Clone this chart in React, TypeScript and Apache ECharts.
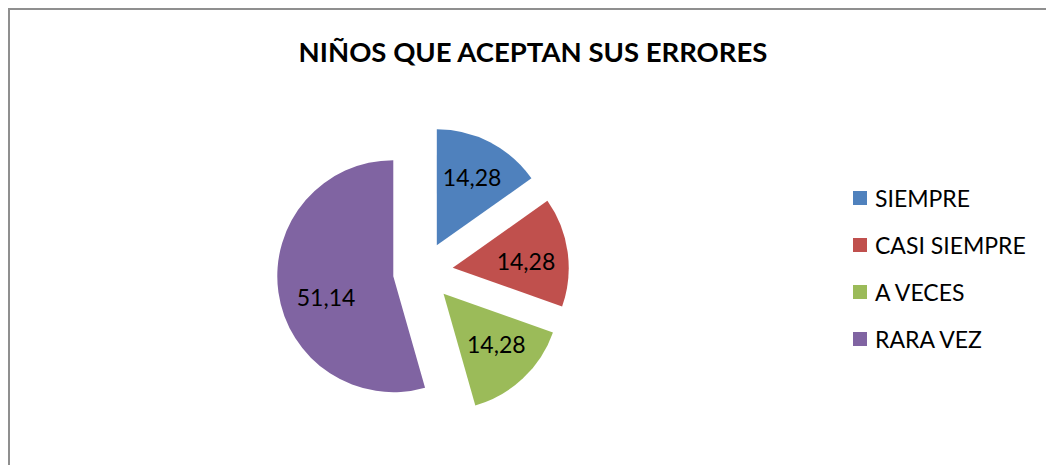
import React, { useEffect, useRef } from "react";
import * as echarts from "echarts";

const titleText = "NIÑOS QUE ACEPTAN SUS ERRORES";
const categories = ["SIEMPRE", "CASI SIEMPRE", "A VECES", "RARA VEZ"];
const values = [14.28, 14.28, 14.28, 51.14];
const colors = ["#4F81BD", "#C0504D", "#9BBB59", "#8064A2"];
const labelTexts = ["14,28", "14,28", "14,28", "51,14"];

// small label nudges (style only) to mimic the original label placement
const labelNudges: [number, number][] = [
  [0, 0],
  [-3, 4],
  [0, -6],
  [9, 10],
];

export default function App() {
  const ref = useRef<HTMLDivElement>(null);
  useEffect(() => {
    if (!ref.current) return;
    const chart = echarts.init(ref.current, null, { renderer: "svg" });
    const font = "Lato";
    const pieData = categories.map((name, i) => ({
      name,
      value: values[i],
      selected: true,
      itemStyle: { color: colors[i] },
    }));
    const labelData = categories.map((name, i) => ({
      name,
      value: values[i],
      selected: true,
      label: { formatter: labelTexts[i] },
    }));
    chart.setOption({
      animation: false,
      backgroundColor: "#ffffff",
      title: {
        text: titleText,
        left: 528,
        top: 32,
        textAlign: "center",
        textStyle: { fontFamily: font, fontWeight: "bold", fontSize: 27.5, color: "#000" },
      },
      legend: {
        orient: "vertical",
        left: 848,
        top: 180,
        icon: "rect",
        itemWidth: 14,
        itemHeight: 14,
        itemGap: 21,
        data: categories,
        textStyle: {
          fontFamily: font,
          fontSize: 23,
          color: "#000",
          lineHeight: 26,
          padding: [0, 0, 0, 3],
        },
      },
      graphic: [
        {
          type: "rect",
          shape: { x: 9, y: 9, width: 1100, height: 520 },
          style: { fill: "none", stroke: "#8f8f8f", lineWidth: 2 },
          silent: true,
        },
      ],
      series: [
        {
          type: "pie",
          center: [423, 272],
          radius: [0, 116],
          startAngle: 90,
          clockwise: true,
          selectedMode: "multiple",
          selectedOffset: 30,
          label: { show: false },
          labelLine: { show: false },
          emphasis: { disabled: true },
          data: pieData,
        },
        {
          type: "pie",
          center: [423, 272],
          radius: [0, 148],
          startAngle: 90,
          clockwise: true,
          selectedMode: "multiple",
          selectedOffset: 30,
          silent: true,
          itemStyle: { color: "rgba(0,0,0,0)" },
          label: {
            show: true,
            position: "inside",
            fontFamily: font,
            fontSize: 23,
            color: "#000",
          },
          labelLayout: (params: any) => {
            const n = labelNudges[params.dataIndex] || [0, 0];
            return { dx: n[0], dy: n[1] };
          },
          labelLine: { show: false },
          emphasis: { disabled: true },
          data: labelData,
        },
      ],
    });
    return () => chart.dispose();
  }, []);
  return (
    <div
      ref={ref}
      style={{ position: "fixed", left: 0, top: 0, width: 1046, height: 465 }}
    />
  );
}
